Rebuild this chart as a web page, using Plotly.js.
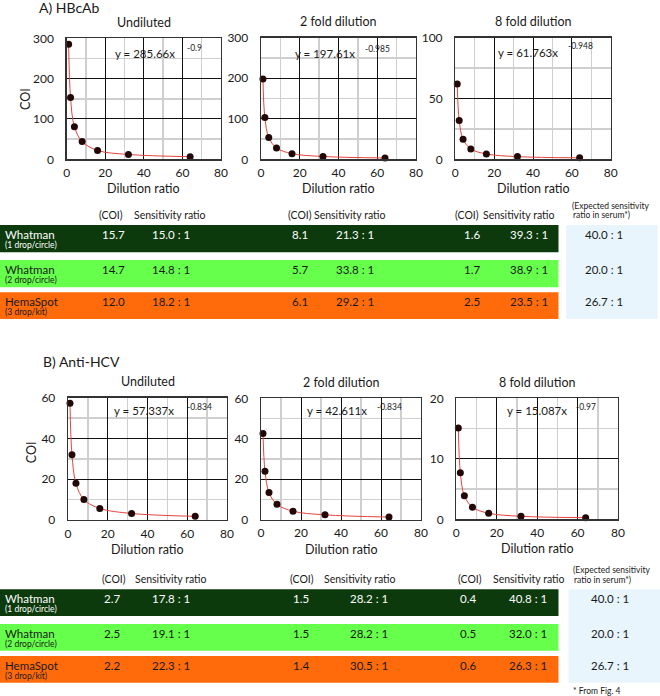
<!DOCTYPE html>
<html><head><meta charset="utf-8">
<script src="https://cdn.plot.ly/plotly-3.0.1.min.js"></script>
<style>html,body{margin:0;padding:0;background:#fff}#plot{width:660px;height:696px}</style>
</head><body><div id="plot"></div>
<script>
// ---------- data ----------
const dilution = [1, 2, 4, 8, 16, 32, 64];
const hbcUndiluted = [285, 153, 81, 44, 22, 12, 6.5];
const hbc2fold = [198, 103, 54, 28, 14, 7, 3.3];
const hbc8fold = [62, 32, 16.5, 8.5, 4.4, 2.2, 1.2];
const hcvUndiluted = [57.3, 32, 18, 10, 5.7, 3.2, 1.8];
const hcv2fold = [42.6, 24, 13.4, 7.6, 4.2, 2.4, 1.3];
const hcv8fold = [15.1, 7.7, 3.9, 2.0, 1.0, 0.5, 0.27];
const panelTitles = ['Undiluted', '2 fold dilution', '8 fold dilution'];
const sectionTitles = ['A) HBcAb', 'B) Anti-HCV'];
const fitCoef = ['285.66', '197.61', '61.763', '57.337', '42.611', '15.087'];
const fitExp = ['-0.9', '-0.985', '-0.948', '-0.834', '-0.834', '-0.97'];
const yMax = [300, 300, 100, 60, 60, 20];
const yTickStep = [100, 100, 50, 20, 20, 10];

const productNames = ['Whatman', 'Whatman', 'HemaSpot'];
const productNotes = ['(1 drop/circle)', '(2 drop/circle)', '(3 drop/kit)'];
const hbcCoi = [[15.7, 8.1, 1.6], [14.7, 5.7, 1.7], [12.0, 6.1, 2.5]];
const hbcRatio = [[15.0, 21.3, 39.3], [14.8, 33.8, 38.9], [18.2, 29.2, 23.5]];
const hcvCoi = [[2.7, 1.5, 0.4], [2.5, 1.5, 0.5], [2.2, 1.4, 0.6]];
const hcvRatio = [[17.8, 28.2, 40.8], [19.1, 28.2, 32.0], [22.3, 30.5, 26.3]];
const expectedRatio = [40.0, 20.0, 26.7];

// ---------- layout helpers ----------
const W = 660, H = 696;
const PX = v => v / W;
const PY = v => 1 - v / H;
const FONT = 'Lato, "Open Sans", sans-serif';

const series = [hbcUndiluted, hbc2fold, hbc8fold, hcvUndiluted, hcv2fold, hcv8fold];
// eq: [equation right end x, y, exponent left x, y]
const panels = [
  {x0: 66.7, x1: 221, y0: 38.3, y1: 159.3, eq: [177, 53, 185, 48]},
  {x0: 261, x1: 416, y0: 37.7, y1: 159.3, eq: [357, 54, 363.3, 49]},
  {x0: 455.3, x1: 610.7, y0: 37.7, y1: 159.3, eq: [560, 52.7, 566, 46]},
  {x0: 68, x1: 227, y0: 397.7, y1: 520, eq: [176, 410, 185.3, 406.7]},
  {x0: 261, x1: 421, y0: 398.3, y1: 519.7, eq: [369, 410, 375, 407]},
  {x0: 456.3, x1: 618, y0: 398.3, y1: 519.3, eq: [569.3, 410.7, 574.3, 406.7]}
];

const traces = [];
const layout = {
  width: W, height: H,
  margin: {l: 0, r: 0, t: 0, b: 0},
  paper_bgcolor: '#fff', plot_bgcolor: '#fff',
  showlegend: false,
  font: {family: FONT, size: 11, color: '#1a1a1a'},
  annotations: [], shapes: []
};
const ann = (text, x, y, opt) => layout.annotations.push(Object.assign({
  text: text, x: PX(x), y: PY(y), xref: 'paper', yref: 'paper',
  showarrow: false, xanchor: 'left', yanchor: 'middle',
  font: {family: FONT, size: 11, color: '#1a1a1a'}
}, opt || {}));

panels.forEach((p, i) => {
  const n = i + 1;
  const xa = 'xaxis' + (n === 1 ? '' : n), ya = 'yaxis' + (n === 1 ? '' : n);
  const xr = 'x' + (n === 1 ? '' : n), yr = 'y' + (n === 1 ? '' : n);
  layout[xa] = {
    domain: [PX(p.x0), PX(p.x1)], anchor: yr, range: [0, 80],
    tick0: 0, dtick: 20, showgrid: true, gridcolor: '#111', gridwidth: 1,
    minor: {dtick: 10, showgrid: true, gridcolor: '#cfcfcf', gridwidth: 1.5},
    showline: true, mirror: true, linecolor: '#333', linewidth: 1.3,
    zeroline: false, ticks: 'outside', ticklen: 2, tickcolor: 'rgba(0,0,0,0)',
    tickfont: {family: FONT, size: 12, color: '#1a1a1a'}, fixedrange: true
  };
  layout[ya] = {
    domain: [PY(p.y1), PY(p.y0)], anchor: xr, range: [0, yMax[i]],
    tick0: 0, dtick: yTickStep[i], showgrid: true, gridcolor: '#111', gridwidth: 1,
    minor: {dtick: yTickStep[i] / 2, showgrid: true, gridcolor: '#cfcfcf', gridwidth: 1.5},
    showline: true, mirror: true, linecolor: '#333', linewidth: 1.3,
    zeroline: false, ticks: 'outside', ticklen: 9, tickcolor: 'rgba(0,0,0,0)',
    tickfont: {family: FONT, size: 12, color: '#1a1a1a'}, fixedrange: true
  };
  traces.push({
    x: dilution, y: series[i], xaxis: xr, yaxis: yr, type: 'scatter',
    mode: 'lines', line: {color: '#e5443c', width: 1, shape: 'spline', smoothing: 1},
    hoverinfo: 'skip', cliponaxis: false
  });
  traces.push({
    x: dilution, y: series[i], xaxis: xr, yaxis: yr, type: 'scatter',
    mode: 'markers', marker: {color: '#230808', size: 7},
    cliponaxis: false
  });
  const cx = (p.x0 + p.x1) / 2;
  ann(panelTitles[i % 3], cx, p.y0 - 16, {xanchor: 'center', font: {family: FONT, size: 12.5, color: '#1a1a1a'}});
  ann('Dilution ratio', cx, p.y1 + 29.5, {xanchor: 'center', font: {family: FONT, size: 12.5, color: '#1a1a1a'}});
  ann('y = ' + fitCoef[i] + 'x', p.eq[0], p.eq[1], {xanchor: 'right', font: {family: FONT, size: 11.5, color: '#1a1a1a'}});
  ann(fitExp[i], p.eq[2], p.eq[3], {font: {family: FONT, size: 8.5, color: '#1a1a1a'}});
});
ann('COI', 25, 99, {xanchor: 'center', textangle: -90, font: {family: FONT, size: 12.5, color: '#1a1a1a'}});
ann('COI', 31.5, 452.7, {xanchor: 'center', textangle: -90, font: {family: FONT, size: 12.5, color: '#1a1a1a'}});
ann(sectionTitles[0], 37, 7, {font: {family: FONT, size: 14, color: '#1a1a1a'}});
ann(sectionTitles[1], 40.5, 361.7, {font: {family: FONT, size: 14, color: '#1a1a1a'}});

// ---------- tables ----------
const rowFill = ['#0c3a0c', '#66ff4c', '#ff6a0a'];
const rowText = ['#ffffff', '#1a1a1a', '#1a1a1a'];
const fmt = v => v.toFixed(1);
const hdrFont = {family: FONT, size: 10.5, color: '#1a1a1a'};
function drawTable(coi, ratio, cfg) {
  cfg.hdrCoi.forEach(x => ann('(COI)', x, cfg.hdrY, {font: hdrFont}));
  cfg.hdrSens.forEach(x => ann('Sensitivity ratio', x, cfg.hdrY, {font: hdrFont}));
  ann('(Expected sensitivity', cfg.expX, cfg.hdrY - 9, {font: {family: FONT, size: 8.5, color: '#1a1a1a'}});
  ann('ratio in serum*)', cfg.expX + 1, cfg.hdrY + 1, {font: {family: FONT, size: 8.5, color: '#1a1a1a'}});
  layout.shapes.push({type: 'rect', xref: 'paper', yref: 'paper', x0: PX(cfg.boxX[0]), x1: PX(cfg.boxX[1]),
    y0: PY(cfg.rows[2][1]), y1: PY(cfg.rows[0][0]), fillcolor: '#e8f5fd', line: {width: 0}, layer: 'below'});
  cfg.rows.forEach((r, k) => {
    layout.shapes.push({type: 'rect', xref: 'paper', yref: 'paper', x0: 0, x1: PX(558.5),
      y0: PY(r[1]), y1: PY(r[0]), fillcolor: rowFill[k], line: {width: 0}, layer: 'below'});
    const ty = r[0] + 9.5;
    const f = {family: FONT, size: 11.5, color: rowText[k]};
    ann(productNames[k], 3, ty, {font: f});
    ann(productNotes[k], 3, r[0] + 20, {font: {family: FONT, size: 8.5, color: rowText[k]}});
    for (let g = 0; g < 3; g++) {
      ann(fmt(coi[k][g]), cfg.coiX[g], ty, {font: f});
      ann(fmt(ratio[k][g]) + ' : 1', cfg.ratioX[g], ty, {font: f});
    }
    ann(fmt(expectedRatio[k]) + ' : 1', cfg.expValX, ty, {xanchor: 'center', font: {family: FONT, size: 11.5, color: '#1a1a1a'}});
  });
}
drawTable(hbcCoi, hbcRatio, {
  hdrY: 214.5, hdrCoi: [97, 286, 453], hdrSens: [132, 312, 481], expX: 570,
  rows: [[225, 252.3], [260, 287.3], [292.3, 319]], boxX: [566, 657.5],
  coiX: [100, 290, 462], ratioX: [150, 334, 508], expValX: 604
});
drawTable(hcvCoi, hcvRatio, {
  hdrY: 578.5, hdrCoi: [100, 288, 456], hdrSens: [133, 322, 491], expX: 571,
  rows: [[589.3, 616], [624, 650.7], [656, 682.7]], boxX: [568.5, 660],
  coiX: [102, 291, 458], ratioX: [150, 348, 507], expValX: 610
});
ann('* From Fig. 4', 570.5, 691, {font: {family: FONT, size: 8.5, color: '#1a1a1a'}});

Plotly.newPlot('plot', traces, layout, {staticPlot: true, displayModeBar: false});
</script></body></html>
